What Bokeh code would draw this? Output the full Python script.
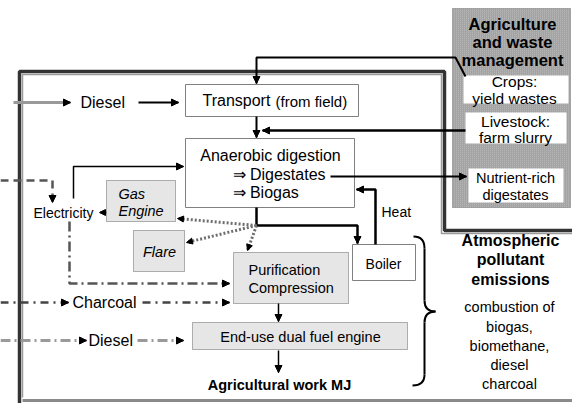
from bokeh.plotting import figure
from bokeh.models import Range1d, Arrow, NormalHead
from bokeh.core.properties import value
from bokeh.embed import file_html
from bokeh.resources import INLINE

FONT = value("Liberation Sans")

# ---- boxes: (x0, x1, y0, y1) in reference pixel space ----
plain_boxes = {"Transport": (185, 358, 84, 116),
               "Digestion": (185, 354, 138, 207),
               "Boiler": (352, 415, 244, 280)}
grey_boxes = {"Gas Engine": (106, 175, 180, 221),
              "Flare": (133, 184, 230, 271),
              "Purification": (233, 348, 252, 303),
              "End-use": (192, 407, 322, 349)}
white_sub = {"Crops": (463, 568, 75, 103),
             "Livestock": (465, 566, 112, 143),
             "Nutrient": (468, 563, 168, 202)}
ag_box = (452, 570, 8, 207)

# ---- frame ----
frame_x = [19, 19, 444, 444, 600]
frame_y = [420, 71, 71, 230, 230]
frame_in_x = [22, 22, 441, 441, 600]
frame_in_y = [397, 74, 74, 233, 233]
bottom_x = [22, 600]
bottom_y = [400, 400]

# ---- solid black arrows (paths) ----
solid_paths = [
    ([138, 178], [102, 102], 2.0),                       # Diesel -> Transport
    ([256, 256], [116, 137], 2.0),                       # Transport -> AD
    ([465, 455, 256, 256], [76, 57, 57, 83], 2.0),       # Crops -> Transport
    ([465, 262], [130, 130], 2.5),                       # Livestock -> AD
    ([330, 466], [176, 176], 2.0),                       # Digestates -> Nutrient
    ([73, 73, 183], [198, 166, 166], 1.5),               # Electricity -> AD
    ([256, 256, 357, 357], [207, 225, 225, 243], 2.5),   # AD -> Boiler
    ([375, 375, 356], [244, 189, 189], 2.5),             # Heat -> AD
    ([278, 278], [303, 321], 1.5),                       # Purif -> End-use
    ([278, 278], [350, 372], 1.5),                       # End-use -> work
]
# ---- dotted biogas arrows ----
dotted_paths = [
    ([256, 177], [225, 218]),
    ([256, 186], [225, 242]),
    ([256, 247], [225, 250]),
    ([106, 99], [212, 212]),
]
# ---- styled input lines: xs, ys, colour, width, dash, arrow? ----
styled_paths = [
    ([13, 70], [102, 102], "#999999", 3, "solid", True),
    ([0, 52, 52], [180, 180, 202], "#555555", 2.5, "8 5", True),
    ([69, 69, 229], [221, 283, 283], "#555555", 2.5, "10 4 2 4", True),
    ([0, 68], [302, 302], "#444444", 2.5, "8 5 2 5", True),
    ([142, 229], [302, 302], "#444444", 2.5, "8 5 2 5", True),
    ([0, 86], [340, 340], "#9a9a9a", 3, "10 4 2 4", True),
    ([137, 183], [340, 340], "#9a9a9a", 3, "10 4 2 4", True),
]

# ---- texts: text, x, y, size, style, align ----
texts = [
    ("Diesel", 80, 102, "16px", "normal", "left"),
    ("Transport", 202, 100, "16px", "normal", "left"),
    ("(from field)", 275, 101, "15px", "normal", "left"),
    ("Anaerobic digestion", 270, 155, "16px", "normal", "center"),
    ("\u21d2 Digestates", 232, 174, "16px", "normal", "left"),
    ("\u21d2 Biogas", 232, 192, "16px", "normal", "left"),
    ("Electricity", 33, 212, "14px", "normal", "left"),
    ("Gas", 118, 193, "14.5px", "italic", "left"),
    ("Engine", 118, 210, "14.5px", "italic", "left"),
    ("Flare", 159, 251, "14.5px", "italic", "center"),
    ("Purification", 248, 269, "14.5px", "normal", "left"),
    ("Compression", 248, 287, "14.5px", "normal", "left"),
    ("Boiler", 383, 263, "14px", "normal", "center"),
    ("Heat", 381, 211, "14px", "normal", "left"),
    ("Charcoal", 72, 302, "16px", "normal", "left"),
    ("Diesel", 88, 340, "16px", "normal", "left"),
    ("End-use dual fuel engine", 300, 336, "14.5px", "normal", "center"),
    ("Agricultural work MJ", 279, 384, "14.5px", "bold", "center"),
    ("Agriculture", 512, 23, "16.5px", "bold", "center"),
    ("and waste", 512, 41, "16.5px", "bold", "center"),
    ("management", 512, 59, "16.5px", "bold", "center"),
    ("Crops:", 514, 81, "15.5px", "normal", "center"),
    ("yield wastes", 514, 98, "15.5px", "normal", "center"),
    ("Livestock:", 515, 121, "15.5px", "normal", "center"),
    ("farm slurry", 515, 137, "15.5px", "normal", "center"),
    ("Nutrient-rich", 515, 177, "14.5px", "normal", "center"),
    ("digestates", 515, 194, "14.5px", "normal", "center"),
    ("Atmospheric", 510, 240, "16px", "bold", "center"),
    ("pollutant", 510, 259, "16px", "bold", "center"),
    ("emissions", 510, 279, "16px", "bold", "center"),
    ("combustion of", 509, 306, "14.5px", "normal", "center"),
    ("biogas,", 509, 326, "14.5px", "normal", "center"),
    ("biomethane,", 509, 345, "14.5px", "normal", "center"),
    ("diesel", 509, 364, "14.5px", "normal", "center"),
    ("charcoal", 509, 383, "14.5px", "normal", "center"),
]

# ---- curly brace segments (bezier) ----
brace_beziers = [
    (413, 236, 424, 248, 421, 236, 424, 240),
    (424, 300, 435, 311, 424, 308, 428, 311),
    (435, 311, 424, 322, 428, 311, 424, 314),
    (424, 374, 412, 385, 424, 382, 420, 385),
]
brace_lines = [([424, 424], [248, 300]), ([424, 424], [322, 374])]

p = figure(width=572, height=403, output_backend="svg", toolbar_location=None,
           x_range=Range1d(0, 572), y_range=Range1d(403, 0),
           x_axis_type=None, y_axis_type=None, min_border=0)
p.grid.visible = False
p.outline_line_color = None
p.background_fill_color = "white"

# agriculture box
x0, x1, y0, y1 = ag_box
p.quad(left=[x0], right=[x1], top=[y0], bottom=[y1], fill_color="#b4b4b4",
       hatch_pattern="/", hatch_color="#9a9a9a", hatch_scale=2, hatch_weight=0.8,
       line_color="#777777", line_width=1, line_dash="1 1")
for k, (x0, x1, y0, y1) in white_sub.items():
    p.quad(left=[x0], right=[x1], top=[y0], bottom=[y1], fill_color="white",
           line_color=None)

# frame
p.line(bottom_x, bottom_y, line_color="#8a8a8a", line_width=3)
p.line(frame_x, frame_y, line_color="#333333", line_width=3.5)
p.line(frame_in_x, frame_in_y, line_color="#9a9a9a", line_width=1.5)

for k, (x0, x1, y0, y1) in plain_boxes.items():
    p.quad(left=[x0], right=[x1], top=[y0], bottom=[y1], fill_color="white",
           line_color="#808080", line_width=1)
for k, (x0, x1, y0, y1) in grey_boxes.items():
    p.quad(left=[x0], right=[x1], top=[y0], bottom=[y1], fill_color="#e6e6e6",
           line_color="#666666", line_width=1, line_dash="1 1")


def head(xs, ys, color, size=7):
    p.add_layout(Arrow(x_start=xs[-2], y_start=ys[-2], x_end=xs[-1], y_end=ys[-1],
                       line_alpha=0,
                       end=NormalHead(size=size, fill_color=color, line_color=color,
                                      line_width=1)))


for xs, ys, w in solid_paths:
    p.line(xs, ys, line_color="black", line_width=w)
    head(xs, ys, "black")

for xs, ys in dotted_paths:
    p.line(xs, ys, line_color="#6e6e6e", line_width=3, line_dash="2 2")
    head(xs, ys, "black", 6)

for xs, ys, c, w, d, a in styled_paths:
    p.line(xs, ys, line_color=c, line_width=w, line_dash=d)
    if a:
        head(xs, ys, "black", 7)

for b in brace_beziers:
    p.bezier(x0=[b[0]], y0=[b[1]], x1=[b[2]], y1=[b[3]], cx0=[b[4]], cy0=[b[5]],
             cx1=[b[6]], cy1=[b[7]], line_color="black", line_width=2)
for xs, ys in brace_lines:
    p.line(xs, ys, line_color="black", line_width=2)

for t, x, y, s, st, al in texts:
    p.text(x=[x], y=[y], text=[t], text_font=FONT, text_font_size=s,
           text_font_style=st, text_align=al, text_baseline="middle",
           text_color="black")

open("out.html", "w").write(file_html(p, INLINE))
